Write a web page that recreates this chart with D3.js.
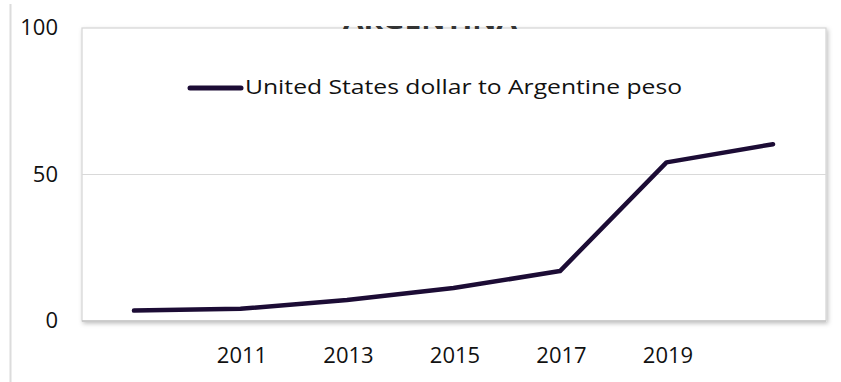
<!DOCTYPE html>
<html>
<head>
<meta charset="utf-8">
<script src="https://cdn.jsdelivr.net/npm/d3@7"></script>
<style>
  body { margin: 0; background: #fff; }
  svg { display: block; font-family: "Open Sans", "Noto Sans", sans-serif; }
</style>
</head>
<body>
<script>
/*** data ***/
const years = [2009, 2011, 2013, 2015, 2017, 2019, 2021];
const pesoPerDollar = [3.2, 3.8, 6.8, 10.9, 16.7, 53.8, 60.0];
const xTicks = [2011, 2013, 2015, 2017, 2019];
const yTicks = [0, 50, 100];
const seriesName = "United States dollar to Argentine peso";
const title = "ARGENTINA";

/*** sizes ***/
const width = 841, height = 382;
const box = { left: 82, top: 28, right: 826, bottom: 321 };

const svg = d3.select("body").append("svg")
  .attr("width", width)
  .attr("height", height);

const defs = svg.append("defs");
const shadow = defs.append("filter").attr("id", "shadow")
  .attr("x", "-5%").attr("y", "-5%").attr("width", "110%").attr("height", "115%");
shadow.append("feDropShadow")
  .attr("dx", 1.5).attr("dy", 2).attr("stdDeviation", 2)
  .attr("flood-color", "#000").attr("flood-opacity", 0.25);

// only the very bottom of the title shows in the original
defs.append("clipPath").attr("id", "titleclip")
  .append("rect").attr("x", 0).attr("y", 26).attr("width", width).attr("height", 3);

// faint line at the far left
svg.append("line")
  .attr("x1", 10.5).attr("x2", 10.5).attr("y1", 4).attr("y2", height)
  .attr("stroke", "#dcdcdc").attr("stroke-width", 2);

// plot box with shadow
svg.append("rect")
  .attr("x", box.left).attr("y", box.top)
  .attr("width", box.right - box.left).attr("height", box.bottom - box.top)
  .attr("fill", "#fff").attr("stroke", "#d4d4d4").attr("stroke-width", 1.2)
  .attr("filter", "url(#shadow)");

// title, mostly hidden
svg.append("text")
  .attr("clip-path", "url(#titleclip)")
  .attr("x", 343).attr("y", 29)
  .attr("font-size", 24).attr("font-weight", 700)
  .attr("textLength", 174).attr("lengthAdjust", "spacingAndGlyphs")
  .attr("fill", "#333")
  .text(title);

/*** scales ***/
const x = d3.scaleLinear().domain([2009, 2021]).range([134, 773]);
const y = d3.scaleLinear().domain([0, 100]).range([320, 27]);

// gridline at 50
svg.append("g")
  .selectAll("line")
  .data(yTicks.filter(d => d > 0 && d < 100))
  .join("line")
  .attr("x1", box.left).attr("x2", box.right)
  .attr("y1", d => Math.round(y(d)) + 0.5).attr("y2", d => Math.round(y(d)) + 0.5)
  .attr("stroke", "#d9d9d9").attr("stroke-width", 1.2);

// bottom edge slightly darker
svg.append("line")
  .attr("x1", box.left).attr("x2", box.right)
  .attr("y1", box.bottom).attr("y2", box.bottom)
  .attr("stroke", "#c4c4c4").attr("stroke-width", 1.5);

/*** axes ***/
const yAxis = svg.append("g")
  .attr("transform", "translate(58,0)")
  .call(d3.axisLeft(y).tickValues(yTicks).tickSize(0).tickPadding(0));
yAxis.select(".domain").remove();
yAxis.selectAll("text")
  .attr("font-size", 22).attr("font-family", "Open Sans, sans-serif")
  .attr("fill", "#111").attr("dy", "0.35em");

const xAxis = svg.append("g")
  .attr("transform", "translate(1,0)")
  .call(d3.axisBottom(x).tickValues(xTicks).tickFormat(d3.format("d")).tickSize(0).tickPadding(0));
xAxis.select(".domain").remove();
xAxis.selectAll("text")
  .attr("font-size", 22).attr("font-family", "Open Sans, sans-serif")
  .attr("fill", "#111").attr("y", 363).attr("dy", 0);

/*** series line ***/
const data = years.map((yr, i) => ({ year: yr, value: pesoPerDollar[i] }));
const line = d3.line().x(d => x(d.year)).y(d => y(d.value));

svg.append("path")
  .datum(data)
  .attr("d", line)
  .attr("fill", "none")
  .attr("stroke", "#1c0c35")
  .attr("stroke-width", 4.5)
  .attr("stroke-linejoin", "round")
  .attr("stroke-linecap", "round");

/*** legend ***/
const legend = svg.append("g");
legend.append("line")
  .attr("x1", 190).attr("x2", 241).attr("y1", 88).attr("y2", 88)
  .attr("stroke", "#1c0c35").attr("stroke-width", 5).attr("stroke-linecap", "round");
legend.append("text")
  .attr("x", 245).attr("y", 94)
  .attr("font-size", 20)
  .attr("textLength", 437).attr("lengthAdjust", "spacingAndGlyphs")
  .attr("fill", "#111")
  .text(seriesName);
</script>
</body>
</html>
